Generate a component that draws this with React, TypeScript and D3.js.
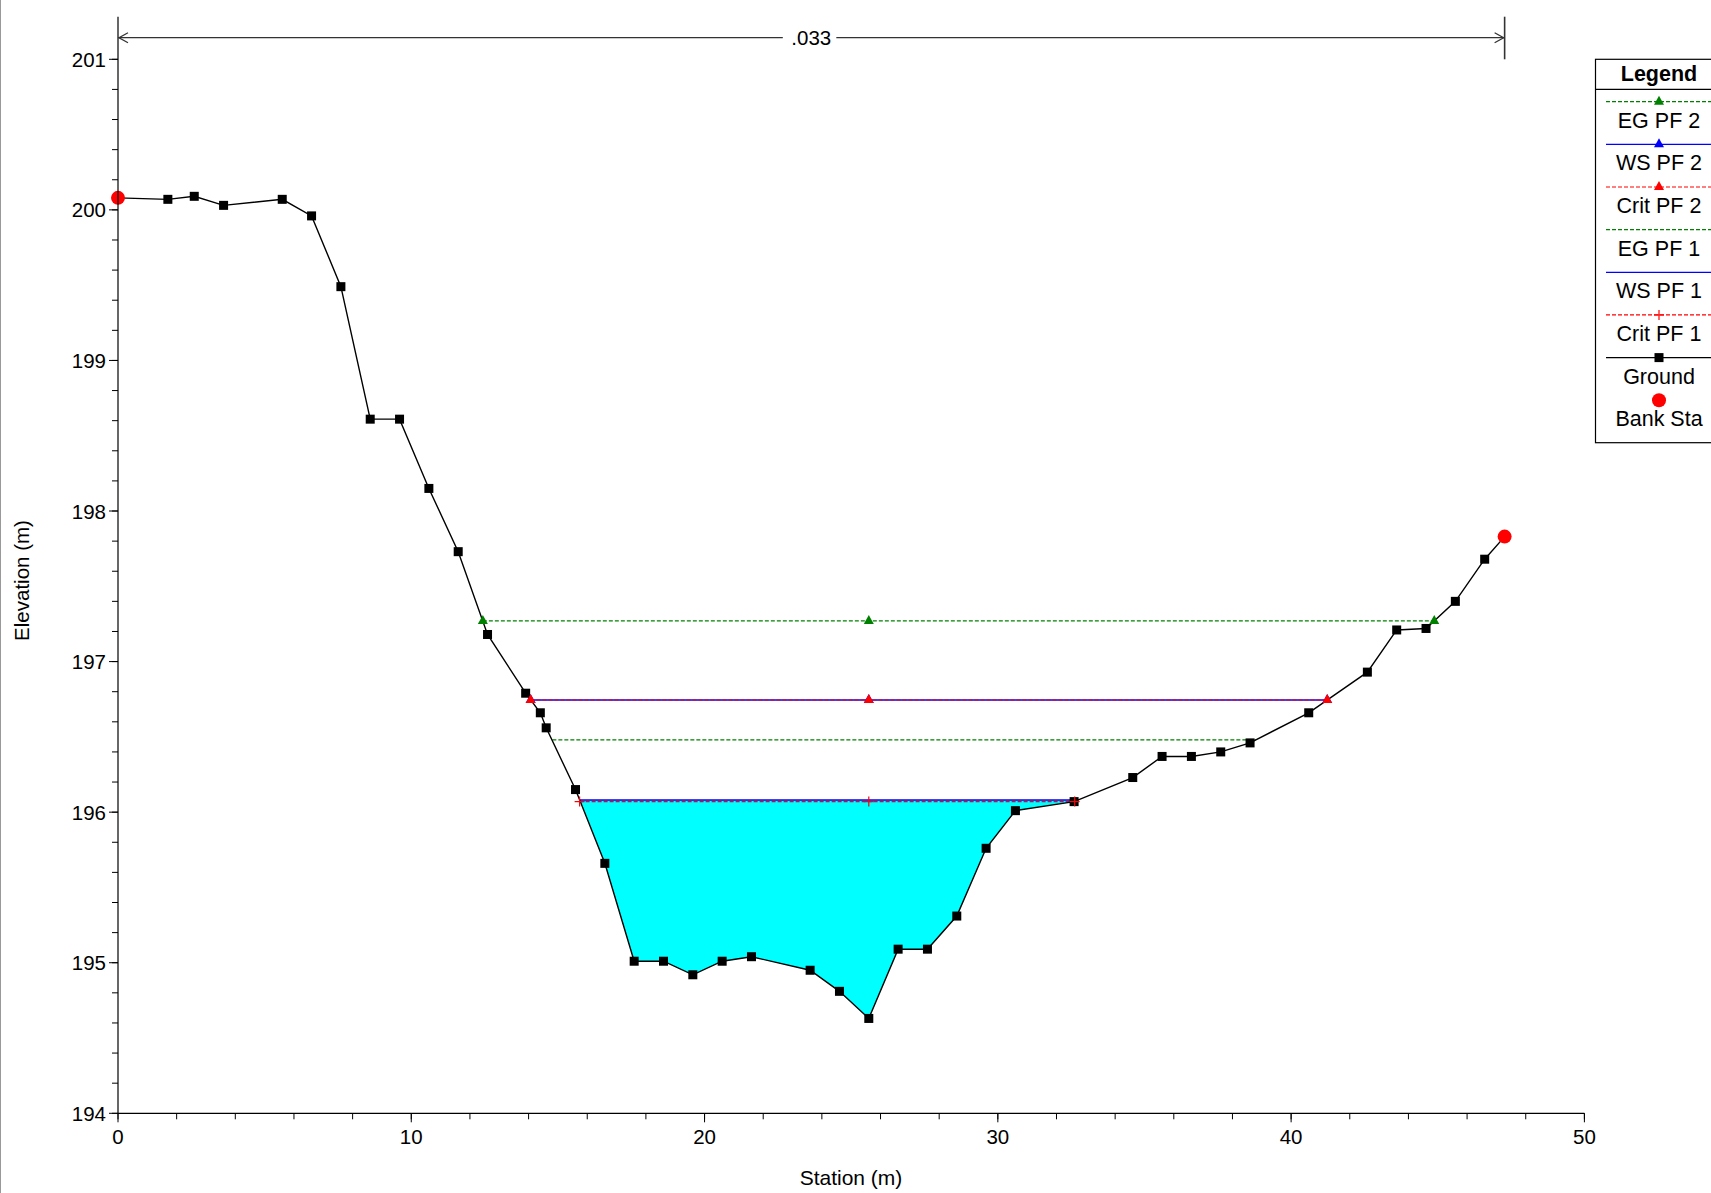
import React from "react";
import * as d3 from "d3";

// ---------- data ----------
const groundStation = [0, 1.7, 2.6, 3.6, 5.6, 6.6, 7.6, 8.6, 9.6, 10.6, 11.6, 12.6, 13.9, 14.4, 14.6, 15.6, 16.6, 17.6, 18.6, 19.6, 20.6, 21.6, 23.6, 24.6, 25.6, 26.6, 27.6, 28.6, 29.6, 30.6, 32.6, 34.6, 35.6, 36.6, 37.6, 38.6, 40.6, 42.6, 43.6, 44.6, 45.6, 46.6, 47.28];
const groundElev = [200.08, 200.07, 200.09, 200.03, 200.07, 199.96, 199.49, 198.61, 198.61, 198.15, 197.73, 197.18, 196.79, 196.66, 196.56, 196.15, 195.66, 195.01, 195.01, 194.92, 195.01, 195.04, 194.95, 194.81, 194.63, 195.09, 195.09, 195.31, 195.76, 196.01, 196.07, 196.23, 196.37, 196.37, 196.40, 196.46, 196.66, 196.93, 197.21, 197.22, 197.40, 197.68, 197.83];
const bankStations = [0, 47.28];
const bankElev = [200.08, 197.83];

const profileNames = ["EG PF 2", "WS PF 2", "Crit PF 2", "EG PF 1", "WS PF 1", "Crit PF 1"];
const profileElev = [197.27, 196.745, 196.745, 196.48, 196.08, 196.07];
const profileLeft = [12.44, 14.07, 14.07, 14.81, 15.74, 15.74];
const profileRight = [44.88, 41.23, 41.23, 38.8, 32.72, 32.62];
const profileMid = 25.6;

const manningN = ".033";
const xTicks = [0, 10, 20, 30, 40, 50];
const yTicks = [194, 195, 196, 197, 198, 199, 200, 201];

// ---------- styles ----------
const FONT = "'Liberation Sans', Arial, Helvetica, sans-serif";
const profileStyle = [
  { color: "#008000", dash: "4,2", marker: "tri" },
  { color: "#0000ff", dash: null, marker: "tri" },
  { color: "#ff0000", dash: "4,2", marker: "tri" },
  { color: "#008000", dash: "4,2", marker: null },
  { color: "#0000ff", dash: null, marker: null },
  { color: "#ff0000", dash: "4,2", marker: "plus" },
];

const W = 1711;
const H = 1193;

function Marker({ type, x, y, color }: { type: string | null; x: number; y: number; color: string }) {
  if (type === "tri") {
    return <path d={`M${x},${y - 6}L${x - 5},${y + 3}L${x + 5},${y + 3}Z`} fill={color} />;
  }
  if (type === "plus") {
    return (
      <g stroke={color} strokeWidth={1.2}>
        <line x1={x - 5} x2={x + 5} y1={y} y2={y} />
        <line x1={x} x2={x} y1={y - 5} y2={y + 5} />
      </g>
    );
  }
  return null;
}

export default function App() {
  const x = d3.scaleLinear().domain([0, 50]).range([118, 1584.4]);
  const y = d3.scaleLinear().domain([194, 201]).range([1113.3, 59.3]);

  const ground: [number, number][] = groundStation.map((s, i) => [s, groundElev[i]]);
  const line = d3.line<[number, number]>().x((d) => x(d[0])).y((d) => y(d[1]));

  // water fill under WS PF 1
  const wsI = 4;
  const wl = profileLeft[wsI];
  const wr = profileRight[wsI];
  const we = profileElev[wsI];
  const fillPts: [number, number][] = [[wl, we], ...ground.filter((d) => d[0] > wl && d[0] < wr), [wr, we]];
  const fillPath = line(fillPts) + "Z";

  const xMinor = d3.range(0, 50.001, 2);
  const yMinor = d3.range(194, 201.001, 0.2);

  const arrowY = 37.7;
  const xl = x(bankStations[0]);
  const xr = x(bankStations[1]);
  const xc = (xl + xr) / 2;

  const legX = 1595;
  const legTop = 59.3;
  const legW = 130;
  const legH = 383.4;
  const legCx = 1659;
  const rowH = 42.65;
  const firstLine = 101.7;
  const legFs = 21.5;

  return (
    <svg width={W} height={H} style={{ position: "absolute", left: 0, top: 0, background: "#fff" }} fontFamily={FONT}>
      <rect x={0} y={0} width={W} height={H} fill="#fff" />
      <line x1={0.5} x2={0.5} y1={0} y2={H} stroke="#999" strokeWidth={1} />

      {/* water fill */}
      <path d={fillPath} fill="#00ffff" stroke="none" />

      {/* profile lines */}
      {profileNames.map((n, i) => (
        <line
          key={n}
          x1={x(profileLeft[i])}
          x2={x(profileRight[i])}
          y1={y(profileElev[i])}
          y2={y(profileElev[i])}
          stroke={profileStyle[i].color}
          strokeWidth={profileStyle[i].dash ? 1.2 : 1.5}
          strokeDasharray={profileStyle[i].dash || undefined}
        />
      ))}

      {/* ground */}
      <path d={line(ground) || ""} fill="none" stroke="#000" strokeWidth={1.4} />
      {ground.map((d, i) => (
        <rect key={i} x={x(d[0]) - 4.5} y={y(d[1]) - 4.5} width={9} height={9} fill="#000" />
      ))}

      {/* profile markers */}
      {profileNames.map((n, i) =>
        [profileLeft[i], profileMid, profileRight[i]].map((s, j) => (
          <Marker key={n + j} type={profileStyle[i].marker} x={x(s)} y={y(profileElev[i])} color={profileStyle[i].color} />
        ))
      )}

      {/* bank stations */}
      {bankStations.map((s, i) => (
        <circle key={i} cx={x(s)} cy={y(bankElev[i])} r={7} fill="#ff0000" />
      ))}

      {/* axes */}
      <line x1={118} x2={118} y1={16.7} y2={y(194)} stroke="#000" strokeWidth={1.2} />
      <line x1={118} x2={x(50)} y1={y(194)} y2={y(194)} stroke="#000" strokeWidth={1.2} />
      {yMinor.map((v, i) => (
        <line key={"ym" + i} x1={118 - 6} x2={118} y1={y(v)} y2={y(v)} stroke="#000" strokeWidth={1} />
      ))}
      {yTicks.map((v) => (
        <g key={"y" + v}>
          <line x1={118 - 9} x2={118} y1={y(v)} y2={y(v)} stroke="#000" strokeWidth={1} />
          <text x={106} y={y(v) + 7.5} fontSize={20.5} textAnchor="end" fill="#000">{v}</text>
        </g>
      ))}
      {xMinor.map((v, i) => (
        <line key={"xm" + i} x1={x(v)} x2={x(v)} y1={y(194)} y2={y(194) + 6} stroke="#000" strokeWidth={1} />
      ))}
      {xTicks.map((v) => (
        <g key={"x" + v}>
          <line x1={x(v)} x2={x(v)} y1={y(194)} y2={y(194) + 9} stroke="#000" strokeWidth={1} />
          <text x={x(v)} y={1144} fontSize={20.5} textAnchor="middle" fill="#000">{v}</text>
        </g>
      ))}
      <text x={851} y={1185} fontSize={21} textAnchor="middle" fill="#000">Station (m)</text>
      <text transform={`translate(29,580.5) rotate(-90)`} fontSize={20.5} textAnchor="middle" fill="#000">Elevation (m)</text>

      {/* Manning's n annotation */}
      <g stroke="#333" strokeWidth={1.3} fill="none">
        <line x1={xl} x2={xc - 28.5} y1={arrowY} y2={arrowY} />
        <line x1={xc + 25} x2={xr} y1={arrowY} y2={arrowY} />
        <path d={`M${xl + 10},${arrowY - 5}L${xl + 1},${arrowY}L${xl + 10},${arrowY + 5}`} />
        <path d={`M${xr - 10},${arrowY - 5}L${xr - 1},${arrowY}L${xr - 10},${arrowY + 5}`} />
        <line x1={xr} x2={xr} y1={16.7} y2={59.3} strokeWidth={1.6} />
      </g>
      <text x={xc} y={arrowY + 7.5} fontSize={20.5} textAnchor="middle" fill="#000">{manningN}</text>

      {/* legend */}
      <rect x={legX + 0.5} y={legTop} width={legW} height={legH} fill="#fff" stroke="#000" strokeWidth={1.2} />
      <line x1={legX} x2={legX + legW} y1={89.3} y2={89.3} stroke="#000" strokeWidth={1.2} />
      <text x={legCx} y={81} fontSize={legFs} fontWeight="bold" textAnchor="middle" fill="#000">Legend</text>
      {profileNames.map((n, i) => {
        const ly = firstLine + i * rowH;
        return (
          <g key={"leg" + n}>
            <line x1={1606} x2={W} y1={ly} y2={ly} stroke={profileStyle[i].color} strokeWidth={1.2} strokeDasharray={profileStyle[i].dash || undefined} />
            <Marker type={profileStyle[i].marker} x={legCx} y={ly} color={profileStyle[i].color} />
            <text x={legCx} y={ly + 26} fontSize={legFs} textAnchor="middle" fill="#000">{n}</text>
          </g>
        );
      })}
      {(() => {
        const ly = firstLine + 6 * rowH;
        return (
          <g>
            <line x1={1606} x2={W} y1={ly} y2={ly} stroke="#000" strokeWidth={1.4} />
            <rect x={legCx - 4.5} y={ly - 4.5} width={9} height={9} fill="#000" />
            <text x={legCx} y={ly + 26} fontSize={legFs} textAnchor="middle" fill="#000">Ground</text>
          </g>
        );
      })()}
      {(() => {
        const ly = firstLine + 7 * rowH;
        return (
          <g>
            <circle cx={legCx} cy={ly} r={7} fill="#ff0000" />
            <text x={legCx} y={ly + 26} fontSize={legFs} textAnchor="middle" fill="#000">Bank Sta</text>
          </g>
        );
      })()}
    </svg>
  );
}
